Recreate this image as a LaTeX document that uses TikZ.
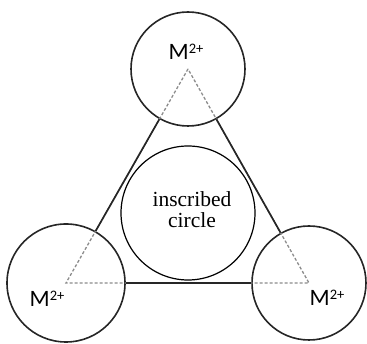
\documentclass[tikz,border=0pt]{standalone}
\usepackage{fontspec}
\setmainfont{Liberation Serif}
\newfontfamily\lblfont{Carlito}
\begin{document}
\begin{tikzpicture}[x=1pt,y=1pt,
  ion/.style={circle,draw=black!85,line width=1.6pt,minimum size=#1,inner sep=0pt},
  solidedge/.style={draw=black!85,line width=1.7pt},
  inneredge/.style={draw=black!45,line width=1.3pt,dash pattern=on 3pt off 2pt},
  mlabel/.style={anchor=base,inner sep=0pt,font=\lblfont\fontsize{23.5}{23.5}\selectfont},
  serifText/.style={anchor=base,inner sep=0pt,font=\fontsize{21.5}{21.5}\selectfont}]
\useasboundingbox (0,0) rectangle (367,344);
% ion circles
\node[ion=114pt] (T) at (188,275) {};
\node[ion=118pt] (L) at (66,61) {};
\node[ion=114pt] (R) at (309,61) {};
% dashed parts of triangle inside circles
\draw[inneredge] (T.center) -- (L.center) -- (R.center) -- cycle;
% solid parts of triangle between circles
\draw[solidedge] (T) -- (L);
\draw[solidedge] (L) -- (R);
\draw[solidedge] (R) -- (T);
% inscribed circle
\node[circle,draw=black,line width=1.2pt,minimum size=134pt,inner sep=0pt,fill=white] (I) at (188,131) {};
\node[serifText] (t1) at (192,137) {inscribed};
\node[serifText] (t2) at (192,116) {circle};
% labels
\newcommand{\ionlabel}{M\raisebox{6pt}{\fontsize{14.5}{14.5}\selectfont 2+}}
\node[mlabel] (mT) at (186,284) {\ionlabel};
\node[mlabel] (mL) at (47,37) {\ionlabel};
\node[mlabel] (mR) at (327,38) {\ionlabel};
\end{tikzpicture}
\end{document}
